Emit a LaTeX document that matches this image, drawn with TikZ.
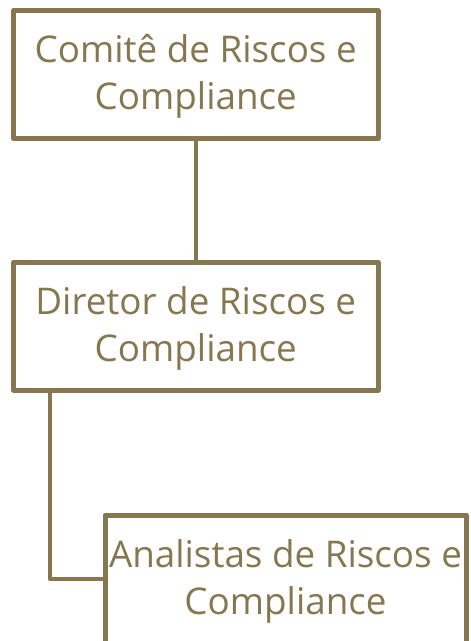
\documentclass[tikz,border=0pt]{standalone}
\usepackage{fontspec}
\setmainfont{Open Sans}
\definecolor{olivebrown}{RGB}{135,119,80}
\begin{document}
\begin{tikzpicture}[x=1pt,y=-1pt,
  box/.style={draw=olivebrown, line width=5pt, line join=round, fill=white,
    rectangle, inner sep=0pt, anchor=center},
  lbl/.style={text=olivebrown, align=center, anchor=base, inner sep=0pt,
    font=\fontsize{36.8}{47}\selectfont},
  conn/.style={draw=olivebrown, line width=4.5pt}]
\useasboundingbox (0,0) rectangle (471,641);
\node[box, minimum width=364.5pt, minimum height=128pt] (c1) at (195.75,74.5) {};
\node[box, minimum width=364.5pt, minimum height=127.5pt] (c2) at (195.75,326.25) {};
\node[box, minimum width=361pt, minimum height=128pt] (c3) at (285.5,579) {};
\node[lbl] (t1) at ([yshift=-35.3pt]c1.center) {Comitê de Riscos e\\Compliance};
\node[lbl] (t2) at ([yshift=-35.3pt]c2.center) {Diretor de Riscos e\\Compliance};
\node[lbl] (t3) at ([yshift=-35.3pt]c3.center) {Analistas de Riscos e\\Compliance};
\coordinate (k) at (50,0);
\draw[conn] (c1.south) -- (c2.north);
\draw[conn, line join=round] (c2.south -| k) |- (c3.west);
\end{tikzpicture}
\end{document}
